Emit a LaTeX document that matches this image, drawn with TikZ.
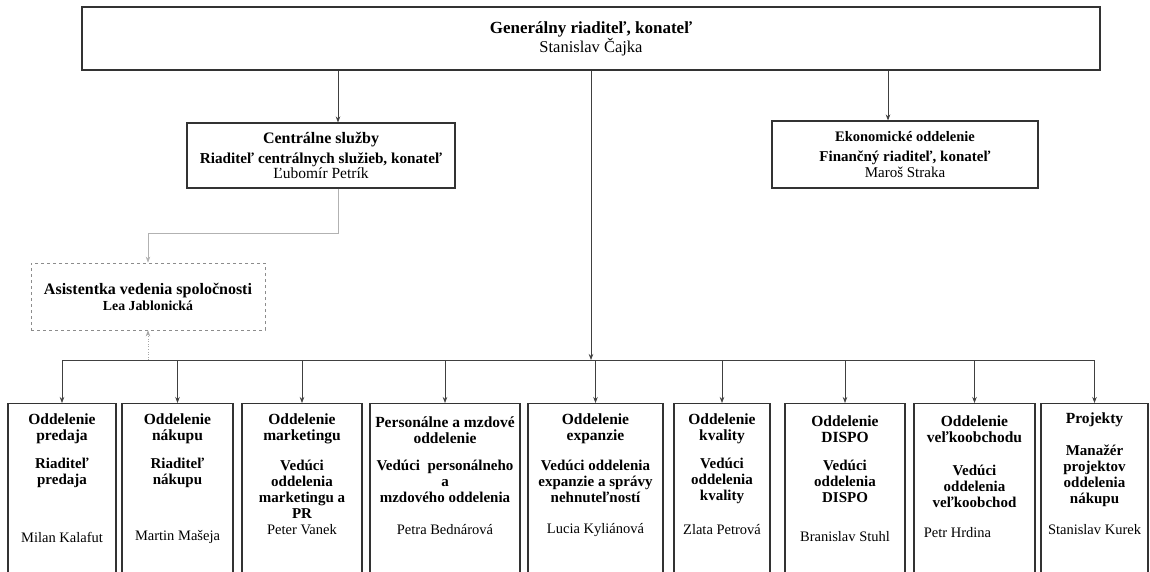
\documentclass[tikz,border=0pt]{standalone}
\usepackage{fontspec}
\setmainfont{Liberation Serif}
\usetikzlibrary{arrows.meta}

\begin{document}
\begin{tikzpicture}[x=1pt,y=-1pt,
  >={Stealth[length=6pt,width=4.5pt]},
  box/.style={draw=black!80,line width=1.1pt,rectangle,inner sep=0pt,align=center},
  dept/.style={box,minimum height=190,anchor=north},
  ttl/.style={align=center,font=\fontsize{15.5}{16}\selectfont\bfseries},
  rol/.style={align=center,font=\fontsize{15}{16}\selectfont\bfseries},
  nm/.style={align=center,font=\fontsize{14.5}{16}\selectfont},
  link/.style={->,draw=black!75,line width=0.7pt},
  asstlink/.style={->,draw=black!30,line width=0.6pt},
  asstdot/.style={->,draw=black!35,line width=0.6pt,dotted}]
  \useasboundingbox (0,0) rectangle (1150,571);

  % Top: general director
  \node[box,minimum width=1018,minimum height=63] (gr) at (591,38.5)
    {\fontsize{17}{18}\selectfont\bfseries Generálny riaditeľ, konateľ\\
     \fontsize{16.5}{18}\selectfont Stanislav Čajka};

  % Second level
  \node[box,minimum width=268,minimum height=65] (cs) at (321,155.5)
    {\fontsize{16}{16}\selectfont\bfseries Centrálne služby\\[5pt]
     \fontsize{15.2}{16}\selectfont\bfseries Riaditeľ centrálnych služieb, konateľ\\
     \fontsize{15.5}{16}\selectfont Ľubomír Petrík};
  \node[box,minimum width=266,minimum height=67] (ek) at (905,154.5)
    {\fontsize{14.5}{16}\selectfont\bfseries Ekonomické oddelenie\\[8pt]
     \fontsize{15}{16}\selectfont\bfseries Finančný riaditeľ, konateľ\\[1pt]
     \fontsize{15}{16}\selectfont Maroš Straka};

  % Assistant (dashed box)
  \node[box,draw=black!45,line width=0.8pt,dashed,minimum width=234,minimum height=67]
    (asst) at (148,296.5)
    {\fontsize{16}{17}\selectfont\bfseries Asistentka vedenia spoločnosti\\[2pt]
     \fontsize{13.8}{17}\selectfont\bfseries Lea Jablonická};

  % Department boxes (bottom edge runs off the page)
  \foreach \i/\xa/\xb in {1/8/116, 2/122/233, 3/242/362, 4/370/520, 5/528/663,
                          6/674/770, 7/785/905, 8/914/1035, 9/1041/1148} {
    \node[dept,minimum width={\xb-\xa}] (d\i) at ({(\xa+\xb)/2},403) {};
  }

  % Department texts: title / role / name
  \foreach \i/\ttltxt/\ty/\roltxt/\ry/\nmtxt/\ny/\nx in {%
    1/{Oddelenie\\predaja}/429/{Riaditeľ\\predaja}/473/{Milan Kalafut}/537/0,
    2/{Oddelenie\\nákupu}/429/{Riaditeľ\\nákupu}/473/{Martin Mašeja}/537/0,
    3/{Oddelenie\\marketingu}/429/{Vedúci\\oddelenia\\marketingu a\\PR}/489.5/{Peter Vanek}/530/0,
    4/{Personálne a mzdové\\oddelenie}/430/{Vedúci\ \ personálneho\\a\\mzdového oddelenia}/481/{Petra Bednárová}/530/0,
    5/{Oddelenie\\expanzie}/429/{Vedúci oddelenia\\expanzie a správy\\nehnuteľností}/481/{Lucia Kyliánová}/530/0,
    6/{Oddelenie\\kvality}/429/{Vedúci\\oddelenia\\kvality}/481/{Zlata Petrová}/530/0,
    7/{Oddelenie\\DISPO}/429/{Vedúci\\oddelenia\\DISPO}/481/{Branislav Stuhl}/537/0,
    8/{Oddelenie\\veľkoobchodu}/429/{Vedúci\\oddelenia\\veľkoobchod}/486/{Petr Hrdina}/533/-17,
    9/{Projekty}/420/{Manažér\\projektov\\oddelenia\\nákupu}/476/{Stanislav Kurek}/530/0} {
    \node[ttl] (t\i) at (d\i.north |- 0,\ty) {\ttltxt};
    \node[rol] (r\i) at (d\i.north |- 0,\ry) {\roltxt};
    \node[nm,xshift=\nx] (n\i) at (d\i.north |- 0,\ny) {\nmtxt};
  }

  % Connectors from the top box
  \coordinate (csin) at ([xshift=17pt]cs.north);
  \coordinate (ekin) at ([xshift=-17pt]ek.north);
  \coordinate (bus) at (591,360);
  \draw[link] (csin |- gr.south) -- (csin);
  \draw[link] (ekin |- gr.south) -- (ekin);
  \draw[link] (gr.south -| bus) -- (bus);
  % Horizontal bus and drops to departments
  \draw[draw=black!75,line width=0.7pt] (d1.north |- bus) -- (d9.north |- bus);
  \foreach \i in {1,...,9} {
    \draw[link] (d\i.north |- bus) -- (d\i.north);
  }
  % Assistant links
  \draw[asstlink] (csin |- cs.south) -- ++(0,45) -| (asst.north);
  \draw[asstdot] (asst.south |- bus) -- (asst.south);
\end{tikzpicture}
\end{document}
